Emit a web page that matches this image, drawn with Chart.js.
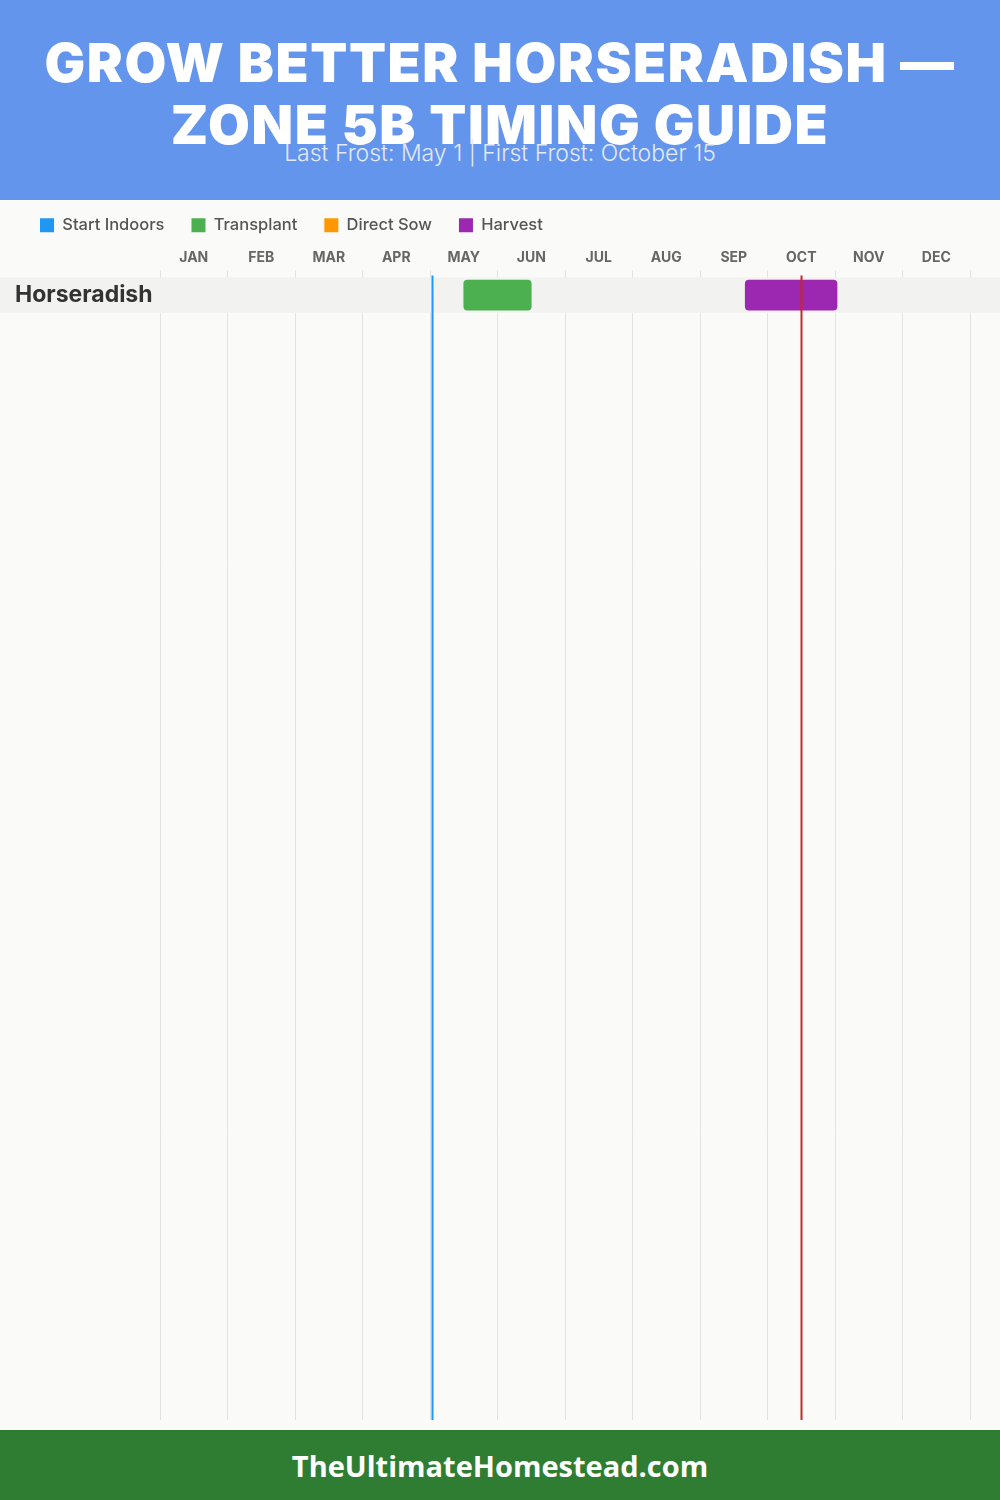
<!DOCTYPE html>
<html>
<head>
<meta charset="utf-8">
<script src="https://cdn.jsdelivr.net/npm/chart.js@4.4.1/dist/chart.umd.min.js"></script>
<style>
  html, body { margin: 0; padding: 0; }
  body { width: 1000px; height: 1500px; position: relative; background: #FAFAF8; overflow: hidden; font-family: Inter, "Open Sans", sans-serif; }
  #header { position: absolute; left: 0; top: 0; width: 1000px; height: 200px; background: #6495ED; z-index: 2; }
  #title { position: absolute; left: 0; top: 32px; width: 1000px; text-align: center; color: #fff; font-family: Inter, sans-serif; font-weight: 900; font-size: 54px; line-height: 62px; letter-spacing: 1.6px; margin: 0; }
  #subtitle { position: absolute; left: 0; top: 141px; width: 1000px; text-align: center; color: #E3E9F5; font-family: Inter, sans-serif; font-weight: 300; font-size: 23px; line-height: 24px; }
  #chartWrap { position: absolute; left: 0; top: 190px; width: 1000px; height: 1240px; z-index: 1; }
  #footer { position: absolute; left: 0; top: 1430px; width: 1000px; height: 70px; background: #2E7D32; color: #fff; display: flex; align-items: center; justify-content: center; font-family: "Open Sans", sans-serif; font-weight: 700; font-size: 29px; z-index: 2; }
</style>
</head>
<body>
<div id="header">
  <div id="title">GROW BETTER HORSERADISH —<br>ZONE 5B TIMING GUIDE</div>
  <div id="subtitle">Last Frost: May 1 | First Frost: October 15</div>
</div>
<div id="chartWrap"><canvas id="c" width="1000" height="1240"></canvas></div>
<div id="footer">TheUltimateHomestead.com</div>
<script>
// ---- data (months as fractional month index, Jan 1 = 0) ----
const months = ['JAN','FEB','MAR','APR','MAY','JUN','JUL','AUG','SEP','OCT','NOV','DEC'];
const crops = ['Horseradish'];
const startIndoors = [];              // none
const transplant = [[4.5, 5.5]];      // May 15 – Jun 15
const directSow = [];                 // none
const harvest = [[8.67, 10.03]];      // Sep 20 – Nov 1
const frostDates = [4.03, 9.5];       // Last frost May 1, first frost Oct 15
const frostColors = ['#2196F3', '#C62828'];

const rowsVisible = 32.3;

function toPoints(arr) {
  return arr.map((r, i) => ({ x: r, y: i + 0.5 }));
}

const rowPlugin = {
  id: 'rows',
  beforeDatasetsDraw(chart) {
    const { ctx } = chart;
    const y = chart.scales.y;
    ctx.save();
    crops.forEach((name, i) => {
      const t = y.getPixelForValue(i);
      const b = y.getPixelForValue(i + 1);
      ctx.fillStyle = '#F2F2F0';
      ctx.fillRect(0, t, chart.width, b - t);
      ctx.fillStyle = '#333333';
      ctx.font = '700 23px Inter, sans-serif';
      ctx.textBaseline = 'middle';
      ctx.textAlign = 'left';
      ctx.fillText(name, 15, (t + b) / 2);
    });
    ctx.restore();
  },
  afterDatasetsDraw(chart) {
    const { ctx, chartArea } = chart;
    const x = chart.scales.x;
    ctx.save();
    frostDates.forEach((v, i) => {
      const px = Math.round(x.getPixelForValue(v)) + 0.5;
      ctx.strokeStyle = frostColors[i];
      ctx.lineWidth = 2;
      ctx.beginPath();
      ctx.moveTo(px, chartArea.top - 2);
      ctx.lineTo(px, chartArea.bottom);
      ctx.stroke();
    });
    ctx.restore();
  }
};

const common = { barThickness: 30, borderRadius: 4, borderSkipped: false, borderWidth: 0, grouped: false };

new Chart(document.getElementById('c'), {
  type: 'bar',
  data: {
    datasets: [
      { label: 'Start Indoors', data: toPoints(startIndoors), backgroundColor: '#2196F3', ...common },
      { label: 'Transplant', data: toPoints(transplant), backgroundColor: '#4CAF50', ...common },
      { label: 'Direct Sow', data: toPoints(directSow), backgroundColor: '#FF9800', ...common },
      { label: 'Harvest', data: toPoints(harvest), backgroundColor: '#9C27B0', ...common }
    ]
  },
  options: {
    indexAxis: 'y',
    responsive: false,
    animation: false,
    devicePixelRatio: 1,
    layout: { padding: { left: 13, right: 30, top: 0, bottom: 10 } },
    plugins: {
      legend: {
        display: true,
        position: 'top',
        align: 'start',
        labels: {
          boxWidth: 14, boxHeight: 14, padding: 27,
          color: '#555555',
          font: { family: 'Inter, sans-serif', size: 16.5, weight: '500' }
        }
      },
      tooltip: { enabled: false }
    },
    scales: {
      x: {
        type: 'linear',
        position: 'top',
        min: 0, max: 12,
        afterBuildTicks(scale) { scale.ticks = months.map((m, i) => ({ value: i })).concat([{ value: 12 }]); },
        afterFit(scale) { scale.height = 34; },
        ticks: {
          autoSkip: false,
          maxRotation: 0,
          padding: 4,
          labelOffset: 33.75,
          color: '#666666',
          font: { family: 'Inter, sans-serif', size: 14, weight: '700' },
          callback: (v) => months[v] || ''
        },
        grid: { color: '#E2E2E0', lineWidth: 1, tickLength: 7, drawTicks: true },
        border: { display: false }
      },
      y: {
        type: 'linear',
        reverse: true,
        offset: false,
        min: 0, max: rowsVisible,
        afterFit(scale) { scale.width = 147; },
        ticks: { display: false },
        grid: { display: false },
        border: { display: false }
      }
    }
  },
  plugins: [rowPlugin]
});
</script>
</body>
</html>
